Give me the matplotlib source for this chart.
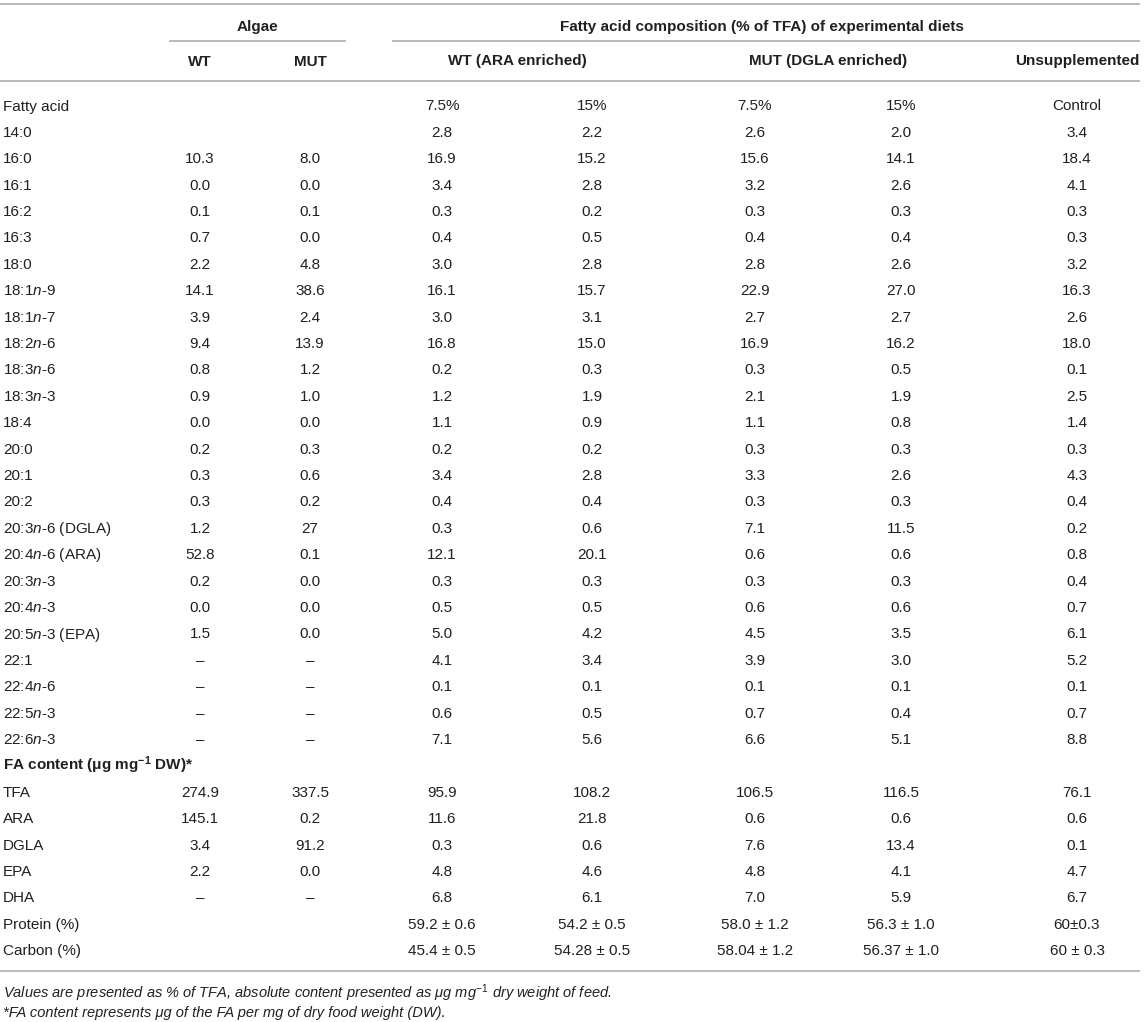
import matplotlib
matplotlib.use("Agg")
import matplotlib.pyplot as plt

plt.rcParams["font.family"] = ["Liberation Sans", "DejaVu Sans"]
plt.rcParams["mathtext.fontset"] = "custom"
plt.rcParams["mathtext.rm"] = "Liberation Sans"
plt.rcParams["mathtext.it"] = "Liberation Sans:italic"
plt.rcParams["mathtext.bf"] = "Liberation Sans:bold"

# row labels (n is italic)
row_labels = ["Fatty acid", "14:0", "16:0", "16:1", "16:2", "16:3", "18:0",
              "18:1$\\mathit{n}$-9", "18:1$\\mathit{n}$-7", "18:2$\\mathit{n}$-6",
              "18:3$\\mathit{n}$-6", "18:3$\\mathit{n}$-3", "18:4", "20:0", "20:1", "20:2",
              "20:3$\\mathit{n}$-6 (DGLA)", "20:4$\\mathit{n}$-6 (ARA)", "20:3$\\mathit{n}$-3",
              "20:4$\\mathit{n}$-3", "20:5$\\mathit{n}$-3 (EPA)", "22:1", "22:4$\\mathit{n}$-6",
              "22:5$\\mathit{n}$-3", "22:6$\\mathit{n}$-3",
              "FA content (\u03bcg $\\mathbf{mg}^{\\mathbf{-1}}$ DW)*",
              "TFA", "ARA", "DGLA", "EPA", "DHA", "Protein (%)", "Carbon (%)"]

D = "\u2013"
algae_wt = ["", "", "10.3", "0.0", "0.1", "0.7", "2.2", "14.1", "3.9", "9.4", "0.8", "0.9",
            "0.0", "0.2", "0.3", "0.3", "1.2", "52.8", "0.2", "0.0", "1.5", D, D, D, D,
            "", "274.9", "145.1", "3.4", "2.2", D, "", ""]
algae_mut = ["", "", "8.0", "0.0", "0.1", "0.0", "4.8", "38.6", "2.4", "13.9", "1.2", "1.0",
             "0.0", "0.3", "0.6", "0.2", "27", "0.1", "0.0", "0.0", "0.0", D, D, D, D,
             "", "337.5", "0.2", "91.2", "0.0", D, "", ""]
wt_75 = ["7.5%", "2.8", "16.9", "3.4", "0.3", "0.4", "3.0", "16.1", "3.0", "16.8", "0.2", "1.2",
         "1.1", "0.2", "3.4", "0.4", "0.3", "12.1", "0.3", "0.5", "5.0", "4.1", "0.1", "0.6", "7.1",
         "", "95.9", "11.6", "0.3", "4.8", "6.8", "59.2 \u00b1 0.6", "45.4 \u00b1 0.5"]
wt_15 = ["15%", "2.2", "15.2", "2.8", "0.2", "0.5", "2.8", "15.7", "3.1", "15.0", "0.3", "1.9",
         "0.9", "0.2", "2.8", "0.4", "0.6", "20.1", "0.3", "0.5", "4.2", "3.4", "0.1", "0.5", "5.6",
         "", "108.2", "21.8", "0.6", "4.6", "6.1", "54.2 \u00b1 0.5", "54.28 \u00b1 0.5"]
mut_75 = ["7.5%", "2.6", "15.6", "3.2", "0.3", "0.4", "2.8", "22.9", "2.7", "16.9", "0.3", "2.1",
          "1.1", "0.3", "3.3", "0.3", "7.1", "0.6", "0.3", "0.6", "4.5", "3.9", "0.1", "0.7", "6.6",
          "", "106.5", "0.6", "7.6", "4.8", "7.0", "58.0 \u00b1 1.2", "58.04 \u00b1 1.2"]
mut_15 = ["15%", "2.0", "14.1", "2.6", "0.3", "0.4", "2.6", "27.0", "2.7", "16.2", "0.5", "1.9",
          "0.8", "0.3", "2.6", "0.3", "11.5", "0.6", "0.3", "0.6", "3.5", "3.0", "0.1", "0.4", "5.1",
          "", "116.5", "0.6", "13.4", "4.1", "5.9", "56.3 \u00b1 1.0", "56.37 \u00b1 1.0"]
control = ["Control", "3.4", "18.4", "4.1", "0.3", "0.3", "3.2", "16.3", "2.6", "18.0", "0.1", "2.5",
           "1.4", "0.3", "4.3", "0.4", "0.2", "0.8", "0.4", "0.7", "6.1", "5.2", "0.1", "0.7", "8.8",
           "", "76.1", "0.6", "0.1", "4.7", "6.7", "60\u00b10.3", "60 \u00b1 0.3"]

columns = [algae_wt, algae_mut, wt_75, wt_15, mut_75, mut_15, control]

W, H = 1145, 1022
fig = plt.figure(figsize=(W / 100, H / 100), dpi=100)
ax = fig.add_axes([0, 0, 1, 1])
ax.set_xlim(0, W)
ax.set_ylim(H, 0)
ax.axis("off")

txt = "#231f20"
line_c = "#b4b4b4"
fs = 11
col_x = [200, 310, 442, 592, 755, 901, 1077]

def put(x, y, s, ha="center", **kw):
    # y is the visual middle of the digits, so shift down to the baseline
    ax.text(x, y + 5.5, s, ha=ha, va="baseline", fontsize=fs, color=txt, **kw)

# rules
for y, x0, x1 in [(4, 0, 1140), (41, 169, 346), (41, 392, 1140), (81.5, 0, 1140), (971, 0, 1140)]:
    ax.plot([x0, x1], [y, y], color=line_c, lw=1.3, solid_capstyle="butt")

# header
put(257, 25, "Algae", weight="bold")
put(762, 25, "Fatty acid composition (% of TFA) of experimental diets", weight="bold")
put(col_x[0], 60, "WT", weight="bold")
put(col_x[1], 60, "MUT", weight="bold")
put((col_x[2] + col_x[3]) / 2, 60, "WT (ARA enriched)", weight="bold")
put((col_x[4] + col_x[5]) / 2, 60, "MUT (DGLA enriched)", weight="bold")
put(col_x[6], 60, "Unsupplemented", weight="bold")

# body
y0, dy = 105, 26.4
for i, lab in enumerate(row_labels):
    y = y0 + i * dy
    put(3, y, lab, ha="left", weight="bold" if lab.startswith("FA content") else "normal")
    for cx, col in zip(col_x, columns):
        if col[i]:
            put(cx, y, col[i])

# notes
ax.text(3, 992 + 5.5, "Values are presented as % of TFA, absolute content presented as "
        "\u03bcg $\\mathit{mg}^{\\mathit{-1}}$ dry weight of feed.",
        ha="left", va="baseline", fontsize=10.5, color=txt, style="italic")
ax.text(3, 1012 + 5.5, "*FA content represents \u03bcg of the FA per mg of dry food weight (DW).",
        ha="left", va="baseline", fontsize=10.5, color=txt, style="italic")

fig.savefig("out.png", dpi=100, facecolor="white")
